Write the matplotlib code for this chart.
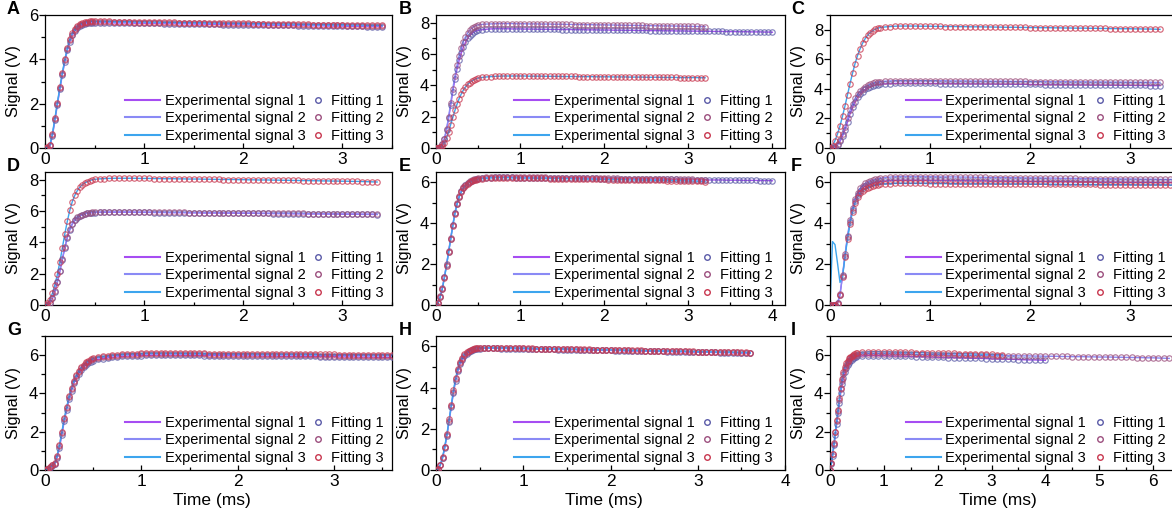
import matplotlib
matplotlib.use('Agg')
import matplotlib.pyplot as plt
from matplotlib.lines import Line2D
from matplotlib.ticker import MultipleLocator

plt.rcParams['font.family'] = ['Liberation Sans', 'DejaVu Sans']

# time axis (ms): 0.025 ms steps over the rise, 0.05 ms over the plateau
T = [0, 0.025, 0.05, 0.075, 0.1, 0.125, 0.15, 0.175, 0.2, 0.225,
     0.25, 0.275, 0.3, 0.325, 0.35, 0.375, 0.4, 0.425, 0.45, 0.475, 0.5,
     0.55, 0.6, 0.65, 0.7, 0.75, 0.8, 0.85, 0.9, 0.95, 1.0,
     1.05, 1.1, 1.15, 1.2, 1.25, 1.3, 1.35, 1.4, 1.45, 1.5,
     1.55, 1.6, 1.65, 1.7, 1.75, 1.8, 1.85, 1.9, 1.95, 2.0,
     2.05, 2.1, 2.15, 2.2, 2.25, 2.3, 2.35, 2.4, 2.45, 2.5,
     2.55, 2.6, 2.65, 2.7, 2.75, 2.8, 2.85, 2.9, 2.95, 3.0,
     3.05, 3.1, 3.15, 3.2, 3.25, 3.3, 3.35, 3.4, 3.45, 3.5,
     3.55, 3.6, 3.65, 3.7, 3.75, 3.8, 3.85, 3.9, 3.95, 4.0]

# panel I runs longer, 0.1 ms steps after the rise
T_I = [0, 0.025, 0.05, 0.075, 0.1, 0.125, 0.15, 0.175, 0.2, 0.225,
       0.25, 0.275, 0.3, 0.325, 0.35, 0.375, 0.4, 0.425, 0.45, 0.475, 0.5,
       0.6, 0.7, 0.8, 0.9, 1.0, 1.1, 1.2, 1.3, 1.4, 1.5,
       1.6, 1.7, 1.8, 1.9, 2.0, 2.1, 2.2, 2.3, 2.4, 2.5,
       2.6, 2.7, 2.8, 2.9, 3.0, 3.1, 3.2, 3.3, 3.4, 3.5,
       3.6, 3.7, 3.8, 3.9, 4.0, 4.1, 4.2, 4.3, 4.4, 4.5,
       4.6, 4.7, 4.8, 4.9, 5.0, 5.1, 5.2, 5.3, 5.4, 5.5,
       5.6, 5.7, 5.8, 5.9, 6.0, 6.1, 6.2, 6.3]

# signal values (V)
A1 = [0, 0.02, 0.1, 0.55, 1.25, 1.95, 2.65, 3.3, 3.9, 4.4, 4.8, 5.08, 5.28, 5.41, 5.5, 5.56, 5.6, 5.62, 5.64, 5.65, 5.65,
      5.65, 5.65, 5.65, 5.64, 5.64, 5.64, 5.64, 5.63, 5.63, 5.63,
      5.62, 5.62, 5.62, 5.61, 5.61, 5.61, 5.6, 5.6, 5.6, 5.59,
      5.59, 5.59, 5.58, 5.58, 5.58, 5.57, 5.57, 5.57, 5.56, 5.56,
      5.56, 5.55, 5.55, 5.55, 5.54, 5.54, 5.54, 5.53, 5.53, 5.53,
      5.52, 5.52, 5.52, 5.51, 5.51, 5.51, 5.5, 5.5, 5.5, 5.5,
      5.49, 5.49, 5.49, 5.49, 5.48, 5.48, 5.48, 5.47]
A2 = [0, 0.02, 0.12, 0.6, 1.3, 2.0, 2.7, 3.35, 3.95, 4.45, 4.85, 5.12, 5.32, 5.45, 5.54, 5.6, 5.63, 5.65, 5.67, 5.68, 5.68,
      5.68, 5.68, 5.68, 5.67, 5.67, 5.67, 5.67, 5.66, 5.66, 5.66,
      5.65, 5.65, 5.65, 5.64, 5.64, 5.64, 5.63, 5.63, 5.63, 5.62,
      5.62, 5.62, 5.61, 5.61, 5.61, 5.6, 5.6, 5.6, 5.59, 5.59,
      5.59, 5.58, 5.58, 5.58, 5.57, 5.57, 5.57, 5.56, 5.56, 5.56,
      5.55, 5.55, 5.55, 5.54, 5.54, 5.54, 5.53, 5.53, 5.53, 5.53,
      5.52, 5.52, 5.52, 5.52, 5.51, 5.51, 5.51, 5.5]
A3 = [0, 0.03, 0.15, 0.65, 1.35, 2.05, 2.75, 3.4, 4.0, 4.5, 4.9, 5.17, 5.36, 5.49, 5.58, 5.64, 5.68, 5.7, 5.71, 5.72, 5.72,
      5.71, 5.71, 5.71, 5.7, 5.7, 5.7, 5.7, 5.69, 5.69, 5.69,
      5.68, 5.68, 5.68, 5.67, 5.67, 5.67, 5.66, 5.66, 5.66, 5.65,
      5.65, 5.65, 5.64, 5.64, 5.64, 5.63, 5.63, 5.63, 5.62, 5.62,
      5.62, 5.61, 5.61, 5.61, 5.6, 5.6, 5.6, 5.59, 5.59, 5.59,
      5.58, 5.58, 5.58, 5.57, 5.57, 5.57, 5.56, 5.56, 5.56, 5.56,
      5.55, 5.55, 5.55, 5.55, 5.54, 5.54, 5.54, 5.53]

B1 = [0, 0.02, 0.08, 0.25, 0.6, 1.15, 1.9, 2.75, 3.6, 4.4, 5.05, 5.6, 6.05, 6.45, 6.75, 7.0, 7.18, 7.3, 7.4, 7.47, 7.52,
      7.56, 7.59, 7.61, 7.62, 7.62, 7.62, 7.62, 7.61, 7.61, 7.61,
      7.6, 7.6, 7.6, 7.59, 7.59, 7.59, 7.58, 7.58, 7.58, 7.57,
      7.57, 7.57, 7.56, 7.56, 7.56, 7.55, 7.55, 7.55, 7.54, 7.54,
      7.54, 7.53, 7.53, 7.53, 7.52, 7.52, 7.52, 7.51, 7.51, 7.51,
      7.5, 7.5, 7.5, 7.49, 7.49, 7.49, 7.48, 7.48, 7.48, 7.47,
      7.47, 7.47, 7.46, 7.46, 7.46, 7.45, 7.45, 7.45, 7.44, 7.44,
      7.44, 7.43, 7.43, 7.43, 7.42, 7.42, 7.42, 7.41, 7.41, 7.4]
B2 = [0, 0.02, 0.08, 0.25, 0.6, 1.2, 2.0, 2.9, 3.8, 4.6, 5.3, 5.9, 6.4, 6.8, 7.1, 7.35, 7.52, 7.65, 7.75, 7.82, 7.87,
      7.9, 7.92, 7.93, 7.94, 7.95, 7.95, 7.95, 7.95, 7.94, 7.94,
      7.94, 7.93, 7.93, 7.93, 7.92, 7.92, 7.92, 7.91, 7.91, 7.91,
      7.9, 7.9, 7.89, 7.89, 7.89, 7.88, 7.88, 7.87, 7.87, 7.87,
      7.86, 7.86, 7.85, 7.85, 7.84, 7.84, 7.84, 7.83, 7.83, 7.82,
      7.82, 7.81, 7.81, 7.8, 7.8, 7.8, 7.79, 7.79, 7.78, 7.78,
      7.77, 7.77, 7.76, 7.76]
B3 = [0, 0.01, 0.05, 0.15, 0.35, 0.65, 1.05, 1.5, 1.95, 2.4, 2.8, 3.15, 3.45, 3.7, 3.9, 4.06, 4.18, 4.28, 4.36, 4.42, 4.47,
      4.51, 4.54, 4.56, 4.58, 4.59, 4.6, 4.6, 4.6, 4.6, 4.6,
      4.6, 4.59, 4.59, 4.59, 4.59, 4.58, 4.58, 4.58, 4.58, 4.57,
      4.57, 4.57, 4.57, 4.56, 4.56, 4.56, 4.56, 4.55, 4.55, 4.55,
      4.55, 4.54, 4.54, 4.54, 4.54, 4.53, 4.53, 4.53, 4.53, 4.52,
      4.52, 4.52, 4.52, 4.51, 4.51, 4.51, 4.51, 4.5, 4.5, 4.5,
      4.5, 4.5, 4.49, 4.49]

C1 = [0, 0.02, 0.08, 0.22, 0.45, 0.8, 1.25, 1.75, 2.3, 2.75, 3.12, 3.42, 3.65, 3.82, 3.96, 4.06, 4.14, 4.2, 4.25, 4.29, 4.32,
      4.34, 4.36, 4.37, 4.38, 4.38, 4.38, 4.38, 4.38, 4.37, 4.37,
      4.37, 4.36, 4.36, 4.36, 4.35, 4.35, 4.35, 4.34, 4.34, 4.34,
      4.33, 4.33, 4.33, 4.32, 4.32, 4.32, 4.31, 4.31, 4.31, 4.3,
      4.3, 4.3, 4.29, 4.29, 4.29, 4.28, 4.28, 4.28, 4.27, 4.27,
      4.27, 4.26, 4.26, 4.26, 4.25, 4.25, 4.25, 4.24, 4.24, 4.24,
      4.23, 4.23, 4.23, 4.22, 4.22, 4.22]
C2 = [0, 0.02, 0.1, 0.28, 0.55, 0.95, 1.45, 2.0, 2.55, 3.0, 3.35, 3.63, 3.85, 4.02, 4.15, 4.25, 4.33, 4.39, 4.44, 4.48, 4.5,
      4.52, 4.54, 4.55, 4.56, 4.56, 4.56, 4.56, 4.56, 4.56, 4.55,
      4.55, 4.55, 4.55, 4.54, 4.54, 4.54, 4.54, 4.53, 4.53, 4.53,
      4.53, 4.52, 4.52, 4.52, 4.52, 4.51, 4.51, 4.51, 4.51, 4.5,
      4.5, 4.5, 4.5, 4.49, 4.49, 4.49, 4.49, 4.48, 4.48, 4.48,
      4.48, 4.47, 4.47, 4.47, 4.47, 4.46, 4.46, 4.46, 4.46, 4.45,
      4.45, 4.45, 4.45, 4.45, 4.44, 4.44]
C3 = [0, 0.15, 0.5, 0.95, 1.5, 2.15, 2.85, 3.6, 4.35, 5.05, 5.7, 6.25, 6.7, 7.08, 7.38, 7.62, 7.8, 7.93, 8.03, 8.1, 8.15,
      8.19, 8.22, 8.24, 8.25, 8.25, 8.25, 8.25, 8.24, 8.24, 8.24,
      8.23, 8.23, 8.22, 8.22, 8.22, 8.21, 8.21, 8.2, 8.2, 8.2,
      8.19, 8.19, 8.18, 8.18, 8.17, 8.17, 8.17, 8.16, 8.16, 8.15,
      8.15, 8.14, 8.14, 8.14, 8.13, 8.13, 8.12, 8.12, 8.11, 8.11,
      8.11, 8.1, 8.1, 8.09, 8.09, 8.08, 8.08, 8.07, 8.07, 8.07,
      8.06, 8.06, 8.05, 8.05, 8.04, 8.03]

D1 = [0, 0.03, 0.14, 0.42, 0.85, 1.45, 2.15, 2.9, 3.65, 4.3, 4.8, 5.16, 5.41, 5.57, 5.68, 5.76, 5.82, 5.86, 5.88, 5.9, 5.91,
      5.92, 5.93, 5.93, 5.93, 5.93, 5.93, 5.93, 5.92, 5.92, 5.92,
      5.92, 5.91, 5.91, 5.91, 5.9, 5.9, 5.9, 5.9, 5.89, 5.89,
      5.89, 5.88, 5.88, 5.88, 5.88, 5.87, 5.87, 5.87, 5.86, 5.86,
      5.86, 5.86, 5.85, 5.85, 5.85, 5.84, 5.84, 5.84, 5.84, 5.83,
      5.83, 5.83, 5.82, 5.82, 5.82, 5.82, 5.81, 5.81, 5.81, 5.8,
      5.8, 5.8, 5.8, 5.79, 5.79, 5.79, 5.78]
D2 = [0, 0.03, 0.15, 0.45, 0.9, 1.5, 2.2, 2.95, 3.7, 4.35, 4.85, 5.2, 5.45, 5.6, 5.7, 5.78, 5.84, 5.88, 5.9, 5.92, 5.93,
      5.94, 5.95, 5.95, 5.95, 5.95, 5.95, 5.95, 5.94, 5.94, 5.94,
      5.94, 5.93, 5.93, 5.93, 5.92, 5.92, 5.92, 5.92, 5.91, 5.91,
      5.91, 5.9, 5.9, 5.9, 5.9, 5.89, 5.89, 5.89, 5.88, 5.88,
      5.88, 5.88, 5.87, 5.87, 5.87, 5.86, 5.86, 5.86, 5.86, 5.85,
      5.85, 5.85, 5.84, 5.84, 5.84, 5.84, 5.83, 5.83, 5.83, 5.82,
      5.82, 5.82, 5.82, 5.81, 5.81, 5.81, 5.8]
D3 = [0, 0.1, 0.35, 0.75, 1.3, 1.95, 2.75, 3.65, 4.55, 5.35, 6.05, 6.6, 7.0, 7.3, 7.52, 7.68, 7.8, 7.88, 7.95, 8.0, 8.03,
      8.06, 8.08, 8.09, 8.1, 8.1, 8.1, 8.1, 8.1, 8.09, 8.09,
      8.09, 8.08, 8.08, 8.07, 8.07, 8.07, 8.06, 8.06, 8.05, 8.05,
      8.05, 8.04, 8.04, 8.03, 8.03, 8.02, 8.02, 8.02, 8.01, 8.01,
      8.0, 8.0, 7.99, 7.99, 7.99, 7.98, 7.98, 7.97, 7.97, 7.96,
      7.96, 7.95, 7.95, 7.94, 7.94, 7.93, 7.93, 7.92, 7.92, 7.91,
      7.91, 7.9, 7.9, 7.89, 7.88, 7.87, 7.86]

E1 = [0, 0.1, 0.4, 0.8, 1.35, 1.95, 2.6, 3.25, 3.9, 4.5, 4.95, 5.3, 5.55, 5.73, 5.86, 5.96, 6.03, 6.08, 6.12, 6.15, 6.18,
      6.2, 6.22, 6.23, 6.24, 6.24, 6.24, 6.24, 6.24, 6.23, 6.23,
      6.23, 6.23, 6.22, 6.22, 6.22, 6.22, 6.21, 6.21, 6.21, 6.21,
      6.2, 6.2, 6.2, 6.2, 6.19, 6.19, 6.19, 6.19, 6.18, 6.18,
      6.18, 6.18, 6.17, 6.17, 6.17, 6.17, 6.16, 6.16, 6.16, 6.16,
      6.15, 6.15, 6.15, 6.15, 6.14, 6.14, 6.14, 6.13, 6.13, 6.13,
      6.13, 6.12, 6.12, 6.12, 6.11, 6.11, 6.11, 6.11, 6.1, 6.1,
      6.1, 6.1, 6.09, 6.09, 6.09, 6.09, 6.08, 6.08, 6.08, 6.07]
E2 = [0, 0.1, 0.42, 0.82, 1.38, 1.98, 2.63, 3.28, 3.93, 4.52, 4.97, 5.32, 5.57, 5.75, 5.88, 5.98, 6.05, 6.1, 6.14, 6.17, 6.2,
      6.22, 6.24, 6.25, 6.26, 6.26, 6.26, 6.26, 6.26, 6.25, 6.25,
      6.25, 6.25, 6.24, 6.24, 6.24, 6.24, 6.23, 6.23, 6.23, 6.22,
      6.22, 6.22, 6.22, 6.21, 6.21, 6.21, 6.2, 6.2, 6.2, 6.2,
      6.19, 6.19, 6.19, 6.18, 6.18, 6.18, 6.18, 6.17, 6.17, 6.17,
      6.16, 6.16, 6.16, 6.16, 6.15, 6.15, 6.15, 6.14, 6.14, 6.14,
      6.14, 6.13, 6.13, 6.12]
E3 = [0, 0.09, 0.38, 0.78, 1.32, 1.92, 2.57, 3.22, 3.87, 4.47, 4.92, 5.27, 5.52, 5.7, 5.83, 5.93, 6.0, 6.05, 6.09, 6.12, 6.15,
      6.17, 6.19, 6.21, 6.22, 6.22, 6.22, 6.22, 6.21, 6.21, 6.21,
      6.2, 6.2, 6.2, 6.19, 6.19, 6.19, 6.18, 6.18, 6.18, 6.17,
      6.17, 6.17, 6.16, 6.16, 6.15, 6.15, 6.15, 6.14, 6.14, 6.14,
      6.13, 6.13, 6.13, 6.12, 6.12, 6.11, 6.11, 6.11, 6.1, 6.1,
      6.1, 6.09, 6.09, 6.09, 6.08, 6.08, 6.07, 6.07, 6.07, 6.06,
      6.06, 6.05, 6.04, 6.03]

F1 = [0, 0, 0, 0.08, 0.5, 1.4, 2.4, 3.3, 4.05, 4.65, 5.08, 5.38, 5.58, 5.72, 5.82, 5.88, 5.93, 5.97, 6.0, 6.02, 6.04,
      6.06, 6.08, 6.09, 6.1, 6.1, 6.1, 6.1, 6.1, 6.1, 6.09,
      6.09, 6.09, 6.09, 6.08, 6.08, 6.08, 6.08, 6.07, 6.07, 6.07,
      6.07, 6.06, 6.06, 6.06, 6.06, 6.05, 6.05, 6.05, 6.05, 6.04,
      6.04, 6.04, 6.04, 6.03, 6.03, 6.03, 6.03, 6.03, 6.02, 6.02,
      6.02, 6.02, 6.02, 6.01, 6.01, 6.01, 6.01, 6.01, 6.0, 6.0,
      6.0, 6.0, 6.0, 6.0, 5.99, 5.99, 5.99, 5.99, 5.99, 5.99,
      5.98, 5.98]
F2 = [0, 0, 0, 0.09, 0.52, 1.45, 2.47, 3.38, 4.14, 4.75, 5.18, 5.49, 5.7, 5.84, 5.95, 6.02, 6.07, 6.11, 6.14, 6.17, 6.19,
      6.23, 6.25, 6.27, 6.28, 6.28, 6.28, 6.28, 6.28, 6.27, 6.27,
      6.27, 6.26, 6.26, 6.26, 6.26, 6.25, 6.25, 6.25, 6.24, 6.24,
      6.24, 6.23, 6.23, 6.23, 6.23, 6.22, 6.22, 6.22, 6.21, 6.21,
      6.21, 6.21, 6.2, 6.2, 6.2, 6.19, 6.19, 6.19, 6.19, 6.18,
      6.18, 6.18, 6.18, 6.17, 6.17, 6.17, 6.17, 6.16, 6.16, 6.16,
      6.16, 6.15, 6.15, 6.15, 6.15, 6.14, 6.14, 6.14, 6.14, 6.13,
      6.13, 6.13]
F3 = [0, 0, 0, 0.07, 0.48, 1.36, 2.34, 3.22, 3.96, 4.55, 4.97, 5.26, 5.45, 5.59, 5.68, 5.74, 5.79, 5.83, 5.86, 5.88, 5.9,
      5.92, 5.93, 5.94, 5.94, 5.94, 5.94, 5.94, 5.94, 5.94, 5.93,
      5.93, 5.93, 5.93, 5.93, 5.93, 5.92, 5.92, 5.92, 5.92, 5.92,
      5.92, 5.92, 5.91, 5.91, 5.91, 5.91, 5.91, 5.91, 5.91, 5.9,
      5.9, 5.9, 5.9, 5.9, 5.9, 5.9, 5.89, 5.89, 5.89, 5.89,
      5.89, 5.89, 5.89, 5.88, 5.88, 5.88, 5.88, 5.88, 5.88, 5.88,
      5.87, 5.87, 5.87, 5.87, 5.87, 5.87, 5.87, 5.86, 5.86, 5.86,
      5.86, 5.86]
# experimental signal 3 in F starts with a switching spike
F3_EXP_RISE = [0, 3.1, 2.95, 2.05, 1.1, 1.36, 2.34, 3.22, 3.96, 4.55, 4.97, 5.26, 5.45, 5.59, 5.68, 5.74, 5.79, 5.83, 5.86, 5.88, 5.9]

G1 = [0, 0.04, 0.12, 0.22, 0.3, 0.62, 1.15, 1.85, 2.55, 3.15, 3.7, 4.15, 4.52, 4.81, 5.04, 5.22, 5.37, 5.49, 5.58, 5.66, 5.72,
      5.78, 5.82, 5.86, 5.89, 5.91, 5.93, 5.95, 5.96, 5.97, 5.98,
      5.99, 5.99, 6.0, 6.0, 6.0, 6.0, 6.0, 6.0, 5.99, 5.99,
      5.99, 5.99, 5.98, 5.98, 5.98, 5.98, 5.97, 5.97, 5.97, 5.97,
      5.96, 5.96, 5.96, 5.96, 5.95, 5.95, 5.95, 5.95, 5.94, 5.94,
      5.94, 5.94, 5.93, 5.93, 5.93, 5.93, 5.92, 5.92, 5.92, 5.92,
      5.91, 5.91, 5.91, 5.91, 5.9, 5.9, 5.9, 5.9, 5.89, 5.89,
      5.89, 5.89]
G2 = [0, 0.05, 0.14, 0.24, 0.33, 0.7, 1.25, 1.95, 2.65, 3.25, 3.8, 4.25, 4.61, 4.9, 5.13, 5.31, 5.45, 5.57, 5.66, 5.74, 5.8,
      5.85, 5.89, 5.92, 5.95, 5.97, 5.99, 6.01, 6.02, 6.03, 6.04,
      6.05, 6.05, 6.05, 6.05, 6.05, 6.05, 6.05, 6.05, 6.04, 6.04,
      6.04, 6.04, 6.04, 6.03, 6.03, 6.03, 6.03, 6.03, 6.02, 6.02,
      6.02, 6.02, 6.01, 6.01, 6.01, 6.01, 6.0, 6.0, 6.0, 6.0,
      6.0, 5.99, 5.99, 5.99, 5.99, 5.99, 5.98, 5.98, 5.98, 5.98,
      5.98, 5.97, 5.97, 5.97, 5.97, 5.97, 5.96, 5.96, 5.96, 5.96,
      5.96, 5.96]
G3 = [0, 0.05, 0.15, 0.25, 0.35, 0.75, 1.3, 2.0, 2.7, 3.3, 3.85, 4.3, 4.66, 4.95, 5.18, 5.36, 5.5, 5.62, 5.71, 5.79, 5.85,
      5.9, 5.94, 5.97, 6.0, 6.02, 6.04, 6.06, 6.07, 6.08, 6.09,
      6.1, 6.1, 6.1, 6.1, 6.1, 6.1, 6.1, 6.1, 6.09, 6.09,
      6.09, 6.09, 6.09, 6.08, 6.08, 6.08, 6.08, 6.08, 6.07, 6.07,
      6.07, 6.07, 6.07, 6.06, 6.06, 6.06, 6.06, 6.06, 6.05, 6.05,
      6.05, 6.05, 6.05, 6.05, 6.04, 6.04, 6.04, 6.04, 6.04, 6.04,
      6.03, 6.03, 6.03, 6.03, 6.03, 6.03, 6.03, 6.02, 6.02, 6.02,
      6.02, 6.02]

H1 = [0, 0.05, 0.24, 0.58, 1.07, 1.66, 2.35, 3.05, 3.74, 4.33, 4.78, 5.13, 5.34, 5.52, 5.64, 5.72, 5.78, 5.82, 5.85, 5.87, 5.89,
      5.9, 5.9, 5.9, 5.9, 5.89, 5.89, 5.89, 5.88, 5.88, 5.88,
      5.87, 5.87, 5.86, 5.86, 5.86, 5.85, 5.85, 5.84, 5.84, 5.84,
      5.83, 5.83, 5.82, 5.82, 5.82, 5.81, 5.81, 5.8, 5.8, 5.8,
      5.79, 5.79, 5.78, 5.78, 5.77, 5.77, 5.77, 5.76, 5.76, 5.75,
      5.75, 5.75, 5.74, 5.74, 5.73, 5.73, 5.73, 5.72, 5.72, 5.71,
      5.71, 5.71, 5.7, 5.7, 5.69, 5.69, 5.69, 5.68, 5.68, 5.67,
      5.67, 5.66]
H2 = [0, 0.05, 0.25, 0.6, 1.1, 1.7, 2.4, 3.1, 3.8, 4.4, 4.85, 5.2, 5.4, 5.57, 5.68, 5.76, 5.81, 5.85, 5.88, 5.9, 5.91,
      5.92, 5.92, 5.92, 5.92, 5.91, 5.91, 5.91, 5.9, 5.9, 5.9,
      5.89, 5.89, 5.88, 5.88, 5.88, 5.87, 5.87, 5.86, 5.86, 5.86,
      5.85, 5.85, 5.84, 5.84, 5.84, 5.83, 5.83, 5.82, 5.82, 5.82,
      5.81, 5.81, 5.8, 5.8, 5.79, 5.79, 5.79, 5.78, 5.78, 5.77,
      5.77, 5.77, 5.76, 5.76, 5.75, 5.75, 5.75, 5.74, 5.74, 5.73,
      5.73, 5.73, 5.72, 5.72, 5.71, 5.71, 5.71, 5.7, 5.7, 5.69,
      5.69, 5.68]
H3 = [0, 0.05, 0.26, 0.62, 1.13, 1.74, 2.45, 3.15, 3.86, 4.46, 4.9, 5.25, 5.45, 5.61, 5.71, 5.79, 5.84, 5.88, 5.91, 5.92, 5.93,
      5.93, 5.93, 5.93, 5.93, 5.92, 5.92, 5.92, 5.91, 5.91, 5.91,
      5.9, 5.9, 5.89, 5.89, 5.89, 5.88, 5.88, 5.87, 5.87, 5.87,
      5.86, 5.86, 5.85, 5.85, 5.85, 5.84, 5.84, 5.83, 5.83, 5.83,
      5.82, 5.82, 5.81, 5.81, 5.8, 5.8, 5.8, 5.79, 5.79, 5.78,
      5.78, 5.78, 5.77, 5.77, 5.76, 5.76, 5.76, 5.75, 5.75, 5.74,
      5.74, 5.74, 5.73, 5.73, 5.72, 5.72, 5.72, 5.71, 5.71, 5.7,
      5.7, 5.69]

I1 = [0, 0.3, 0.75, 1.28, 1.85, 2.42, 2.97, 3.52, 4.03, 4.47, 4.82, 5.1, 5.32, 5.48, 5.6, 5.7, 5.77, 5.83, 5.87, 5.9, 5.93,
      5.96, 5.98, 5.98, 5.97, 5.97, 5.96, 5.95, 5.95, 5.94, 5.93,
      5.92, 5.91, 5.91, 5.9, 5.89, 5.88, 5.87, 5.87, 5.86, 5.85,
      5.84, 5.83, 5.83, 5.82, 5.81, 5.8, 5.79, 5.79, 5.78, 5.77,
      5.76, 5.75, 5.75, 5.74, 5.73]
I2 = [0, 0.34, 0.83, 1.37, 1.96, 2.55, 3.1, 3.68, 4.22, 4.67, 5.02, 5.29, 5.49, 5.64, 5.75, 5.83, 5.89, 5.94, 5.98, 6.01, 6.03,
      6.06, 6.08, 6.08, 6.08, 6.07, 6.07, 6.06, 6.06, 6.05, 6.05,
      6.04, 6.04, 6.03, 6.03, 6.02, 6.02, 6.02, 6.01, 6.01, 6.0,
      6.0, 6.0, 5.99, 5.99, 5.98, 5.98, 5.98, 5.97, 5.97, 5.96,
      5.96, 5.96, 5.95, 5.95, 5.94, 5.94, 5.94, 5.93, 5.93, 5.92,
      5.92, 5.92, 5.91, 5.91, 5.9, 5.9, 5.9, 5.89, 5.89, 5.88,
      5.88, 5.87, 5.87, 5.86, 5.86, 5.85, 5.84, 5.83]
I3 = [0, 0.35, 0.85, 1.4, 2.0, 2.6, 3.15, 3.75, 4.3, 4.75, 5.1, 5.37, 5.57, 5.72, 5.83, 5.91, 5.97, 6.02, 6.06, 6.09, 6.11,
      6.15, 6.17, 6.18, 6.18, 6.17, 6.17, 6.16, 6.15, 6.15, 6.14,
      6.13, 6.13, 6.12, 6.11, 6.11, 6.1, 6.09, 6.09, 6.08, 6.07,
      6.07, 6.06, 6.05, 6.05, 6.04, 6.03, 6.03]

LABELS = ['A', 'B', 'C', 'D', 'E', 'F', 'G', 'H', 'I']
CURVES = [[A1, A2, A3], [B1, B2, B3], [C1, C2, C3],
          [D1, D2, D3], [E1, E2, E3], [F1, F2, F3],
          [G1, G2, G3], [H1, H2, H3], [I1, I2, I3]]
TIMES = [T, T, T, T, T, T, T, T, T_I]
XMAX = [3.5, 4.15, 3.5, 3.5, 4.15, 3.5, 3.6, 4.0, 6.5]
YMAX = [6, 8.5, 9, 8.5, 6.5, 6.5, 7, 6.5, 7]

EXP_NAMES = ['Experimental signal 1', 'Experimental signal 2', 'Experimental signal 3']
FIT_NAMES = ['Fitting 1', 'Fitting 2', 'Fitting 3']
EXP_COLORS = ['#A64DF2', '#8A8AF5', '#3DA5EE']
FIT_COLORS = ['#5B5BA8', '#9C4F7E', '#C8374F']

# layout in pixels of the 1172 x 516 canvas
W, H = 1172, 516
COL_LEFT = [45, 436, 830]
COL_W = [347, 349, 350]
ROW_TOP = [15, 172, 336]
ROW_H = [133, 133, 134]
LETTER_X = [7, 399, 791]
# right edges of the two legend columns, per panel column (axes fraction)
LEG_X1 = [0.751, 0.740, 0.731]
LEG_X2 = [0.976, 0.964, 0.959]

fig = plt.figure(figsize=(W / 100, H / 100), dpi=100)

for idx, lab in enumerate(LABELS):
    r, c = divmod(idx, 3)
    ax = fig.add_axes([COL_LEFT[c] / W, 1 - (ROW_TOP[r] + ROW_H[r]) / H, COL_W[c] / W, ROW_H[r] / H])
    t = TIMES[idx]
    curves = CURVES[idx]

    # experimental traces underneath
    for k, v in enumerate(curves):
        ev = v
        if lab == 'F' and k == 2:
            ev = F3_EXP_RISE + v[len(F3_EXP_RISE):]
        ax.plot(t[:len(ev)], ev, color=EXP_COLORS[k], lw=1.0, zorder=2)
    # fitted points as open circles
    for k, v in enumerate(curves):
        ax.plot(t[:len(v)], v, ls='none', marker='o', ms=3.9, mfc='none',
                mec=FIT_COLORS[k], mew=0.85, alpha=0.75, zorder=3)

    ax.set_xlim(0, XMAX[idx])
    ax.set_ylim(0, YMAX[idx])
    ax.xaxis.set_major_locator(MultipleLocator(1))
    ax.xaxis.set_minor_locator(MultipleLocator(0.5))
    ax.yaxis.set_major_locator(MultipleLocator(2))
    ax.yaxis.set_minor_locator(MultipleLocator(1))
    ax.tick_params(axis='y', which='major', direction='out', length=4.1, width=0.9, labelsize=12, pad=0.8)
    ax.tick_params(axis='y', which='minor', direction='out', length=3.1, width=0.9)
    ax.tick_params(axis='x', which='major', direction='in', length=3.5, width=0.9, labelsize=12.5, pad=3.2)
    ax.tick_params(axis='x', which='minor', direction='in', length=2.5, width=0.9)
    for sp in ax.spines.values():
        sp.set_linewidth(0.9)

    ax.set_ylabel('Signal (V)', fontsize=11.7)
    ax.yaxis.set_label_coords(-0.07, 0.5)
    if r == 2:
        ax.set_xlabel('Time (ms)', fontsize=12.5)
        ax.xaxis.set_label_coords(0.48, -0.17)

    line_handles = [Line2D([], [], color=EXP_COLORS[k], lw=1.5) for k in range(3)]
    leg1 = ax.legend(line_handles, EXP_NAMES, loc='lower right', bbox_to_anchor=(LEG_X1[c], 0.04),
                     frameon=False, fontsize=10.5, handlelength=2.4, handletextpad=0.3,
                     labelspacing=0.22, borderpad=0, borderaxespad=0)
    ax.add_artist(leg1)
    mark_handles = [Line2D([], [], ls='none', marker='o', ms=4.0, mfc='none', mec=FIT_COLORS[k], mew=1.0)
                    for k in range(3)]
    ax.legend(mark_handles, FIT_NAMES, loc='lower right', bbox_to_anchor=(LEG_X2[c], 0.04),
              frameon=False, fontsize=10.5, handlelength=0.8, handletextpad=0.5,
              labelspacing=0.22, borderpad=0, borderaxespad=0)

    fig.text(LETTER_X[c] / W, 1 - (ROW_TOP[r] - 1) / H, lab, fontsize=13,
             fontweight='bold', ha='left', va='baseline')

fig.savefig('out.png', dpi=100)
